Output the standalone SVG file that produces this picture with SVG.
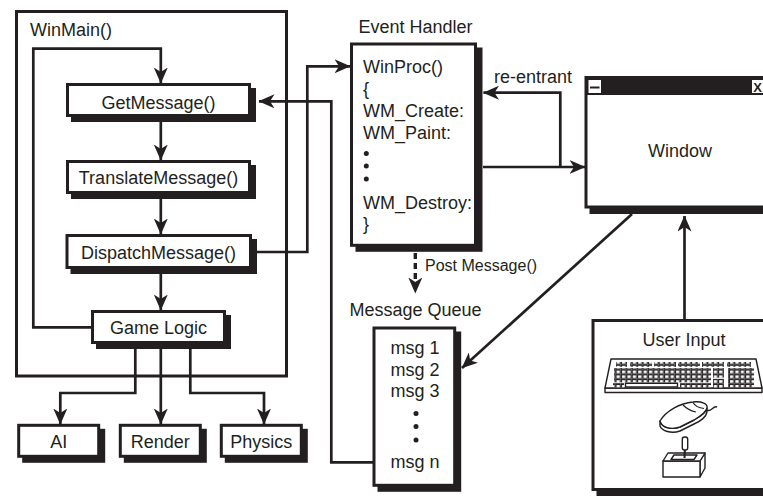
<svg xmlns="http://www.w3.org/2000/svg" width="763" height="496" viewBox="0 0 763 496">
  <style>
    .box{fill:#fff;stroke:#231f20;stroke-width:3}
    .frame{fill:none;stroke:#231f20;stroke-width:3}
    .sh{fill:#231f20;stroke:#231f20;stroke-width:3}
    .ln{fill:none;stroke:#231f20;stroke-width:2.7}
    .arr{marker-end:url(#ah)}
    .dash{stroke-dasharray:6 4;stroke-width:3.4}
    .t{font-family:"Liberation Sans",Arial,Helvetica,sans-serif;font-size:18px;fill:#231f20}
    .c{text-anchor:middle}
    .ic{fill:#fff;stroke:#231f20;stroke-width:1.4;stroke-linejoin:round}
    .dot{fill:#231f20}
  </style>
  <defs>
    <marker id="ah" markerUnits="userSpaceOnUse" viewBox="0 0 16 14" markerWidth="16" markerHeight="14" refX="15.5" refY="7" orient="auto">
      <path d="M0,0 L16,7 L0,14 L4.5,7 Z" fill="#231f20"/>
    </marker>
    <pattern id="keys" width="5.4" height="4.8" patternUnits="userSpaceOnUse">
      <rect x="0.5" y="0.5" width="4.2" height="3.6" fill="#fff" stroke="#231f20" stroke-width="1"/>
    </pattern>
  </defs>

  <rect width="763" height="496" fill="#fff"/>

  <!-- connectors -->
  <g id="connectors">
    <path class="ln arr" d="M91,327.3 H33.3 V48.7 H160.8 V83"/>
    <path class="ln arr" d="M160.8,117 V160"/>
    <path class="ln arr" d="M160.8,194 V234"/>
    <path class="ln arr" d="M160.8,269 V310"/>
    <path class="ln arr" d="M135.3,344 V393 H60.3 V424"/>
    <path class="ln arr" d="M160.8,344 V424"/>
    <path class="ln arr" d="M190.3,344 V393 H264 V424"/>
    <path class="ln arr" d="M257,252 H307.3 V66.3 H350"/>
    <path class="ln arr" d="M373,462.3 H331.3 V101.3 H259"/>
    <path class="ln dash arr" d="M415.3,253 V293"/>
    <path class="ln arr" d="M483,167 H585"/>
    <path class="ln arr" d="M560.3,167 V92.7 H483.5"/>
    <path class="ln arr" d="M632,214 L462,368"/>
    <path class="ln arr" d="M684.5,319 V216"/>
    <text class="t" x="494" y="82.5">re-entrant</text>
    <text class="t" x="425" y="271" style="font-size:16px">Post Message()</text>
  </g>

  <!-- WinMain frame -->
  <g id="winmain">
    <rect class="frame" x="16.5" y="11.5" width="270" height="364.5"/>
    <text class="t" x="30" y="36">WinMain()</text>
  </g>

  <g id="getmessage">
    <rect class="sh" x="72.5" y="89.5" width="182" height="31"/>
    <rect class="box" x="67.5" y="84.5" width="182" height="31"/>
    <text class="t c" x="158.5" y="108.5">GetMessage()</text>
  </g>

  <g id="translatemessage">
    <rect class="sh" x="72.5" y="166.5" width="182" height="31"/>
    <rect class="box" x="67.5" y="161.5" width="182" height="31"/>
    <text class="t c" x="158.5" y="183.5">TranslateMessage()</text>
  </g>

  <g id="dispatchmessage">
    <rect class="sh" x="72" y="240.5" width="183.5" height="32"/>
    <rect class="box" x="67" y="235.5" width="183.5" height="32"/>
    <text class="t c" x="158.5" y="258.5">DispatchMessage()</text>
  </g>

  <g id="gamelogic">
    <rect class="sh" x="97.5" y="316.5" width="132" height="31"/>
    <rect class="box" x="92.5" y="311.5" width="132" height="31"/>
    <text class="t c" x="158.5" y="333.5">Game Logic</text>
  </g>

  <g id="ai">
    <rect class="sh" x="23.7" y="430.3" width="80" height="31"/>
    <rect class="box" x="18.7" y="425.3" width="80" height="31"/>
    <text class="t c" x="58.7" y="447.5">AI</text>
  </g>

  <g id="render">
    <rect class="sh" x="125.3" y="430.3" width="80" height="31"/>
    <rect class="box" x="120.3" y="425.3" width="80" height="31"/>
    <text class="t c" x="160.3" y="447.5">Render</text>
  </g>

  <g id="physics">
    <rect class="sh" x="226.3" y="430.3" width="80" height="31"/>
    <rect class="box" x="221.3" y="425.3" width="80" height="31"/>
    <text class="t c" x="261.3" y="447.5">Physics</text>
  </g>

  <!-- WinProc event handler -->
  <g id="eventhandler">
    <text class="t c" x="415.5" y="33">Event Handler</text>
    <rect class="sh" x="357" y="49" width="124" height="201.3"/>
    <rect class="box" x="351.5" y="44" width="124" height="201.3"/>
    <text class="t" x="363" y="73">WinProc()</text>
    <text class="t" x="363" y="95">{</text>
    <text class="t" x="363" y="117">WM_Create:</text>
    <text class="t" x="363" y="139">WM_Paint:</text>
    <circle class="dot" cx="366.3" cy="153.5" r="2.5"/>
    <circle class="dot" cx="366.3" cy="166" r="2.5"/>
    <circle class="dot" cx="366.3" cy="179" r="2.5"/>
    <text class="t" x="363" y="208.5">WM_Destroy:</text>
    <text class="t" x="363" y="230">}</text>
  </g>

  <!-- application window -->
  <g id="window">
    <rect class="sh" x="591" y="82.5" width="190" height="130"/>
    <rect class="box" x="586" y="77.5" width="190" height="129.5"/>
    <rect x="586" y="77" width="190" height="18" fill="#231f20"/>
    <rect x="588.5" y="80" width="12.5" height="13" fill="#fff"/>
    <rect x="590" y="86.5" width="9.5" height="2" fill="#231f20"/>
    <rect x="752" y="80" width="14" height="13" fill="#fff"/>
    <text class="t" x="753.3" y="92" style="font-size:13px;font-weight:bold">X</text>
    <text class="t c" x="680" y="156.5">Window</text>
  </g>

  <!-- message queue -->
  <g id="messagequeue">
    <text class="t c" x="415.5" y="316">Message Queue</text>
    <rect class="sh" x="379" y="333" width="80.7" height="157.3"/>
    <rect class="box" x="374" y="328" width="80.7" height="157.3"/>
    <text class="t c" x="415" y="354">msg 1</text>
    <text class="t c" x="415" y="375.5">msg 2</text>
    <text class="t c" x="415" y="397">msg 3</text>
    <circle class="dot" cx="416" cy="413.5" r="2.5"/>
    <circle class="dot" cx="416" cy="426.5" r="2.5"/>
    <circle class="dot" cx="416" cy="440" r="2.5"/>
    <text class="t c" x="415" y="467.5">msg n</text>
  </g>

  <!-- input devices -->
  <g id="userinput">
    <rect class="sh" x="598" y="325.5" width="190" height="169"/>
    <rect class="box" x="593" y="320.5" width="190" height="169"/>
    <text class="t c" x="684" y="346">User Input</text>

    <!-- keyboard -->
    <polygon class="ic" points="605,388 762,388 762,392.5 605,392.5"/>
    <polygon class="ic" points="611,359 756,359 762,388 605,388"/>
    <rect x="616" y="362" width="11" height="4.8" fill="url(#keys)"/>
    <rect x="630" y="362" width="22" height="4.8" fill="url(#keys)"/>
    <rect x="654" y="362" width="22" height="4.8" fill="url(#keys)"/>
    <rect x="678" y="362" width="22" height="4.8" fill="url(#keys)"/>
    <rect x="702" y="362" width="22" height="4.8" fill="url(#keys)"/>
    <rect x="727" y="362" width="24" height="4.8" fill="url(#keys)"/>
    <rect x="614" y="368" width="97" height="14.4" fill="url(#keys)"/>
    <rect x="713" y="368" width="11" height="9.6" fill="url(#keys)"/>
    <rect x="728" y="368" width="26" height="19.2" fill="url(#keys)"/>
    <rect x="613" y="383" width="11" height="4.4" fill="url(#keys)"/>
    <rect x="625.5" y="383.3" width="52" height="3.6" class="ic" stroke-width="1"/>
    <rect x="680" y="383" width="31" height="4.4" fill="url(#keys)"/>
    <rect x="713" y="378.8" width="11" height="9" fill="url(#keys)"/>

    <!-- mouse -->
    <path class="ic" d="M660,421 C662,427 671,430 680,427 L694,420 C701,416 707,412 707,408 L707,412 C706,417 701,421 694,424 L680,431 C671,434 662,431 660,426 Z"/>
    <path class="ic" d="M660,421 C666,411 680,403 693,402 C702,401 708,404 707,408 C706,412 701,416 694,420 L680,427 C671,430 662,428 660,421 Z"/>
    <path fill="none" stroke="#231f20" stroke-width="1.2" d="M683,405 C686,408 690,411 696,412 M693,402.5 C695,406 699,408 704,408.5"/>
    <path fill="none" stroke="#231f20" stroke-width="1.4" d="M707,410 C711,413 713,405 717,407"/>

    <!-- joystick -->
    <polygon class="ic" points="700,461 705,453 705,468 700,477"/>
    <polygon class="ic" points="663,461 700,461 700,477 663,477"/>
    <polygon class="ic" points="663,461 668,453 705,453 700,461"/>
    <polygon class="ic" points="671,459.5 674,455 697,455 694,459.5" stroke-width="1"/>
    <line x1="684.5" y1="458" x2="685" y2="447" stroke="#231f20" stroke-width="2"/>
    <rect class="ic" x="682.3" y="437" width="5.4" height="13" rx="2.2"/>
  </g>
</svg>
